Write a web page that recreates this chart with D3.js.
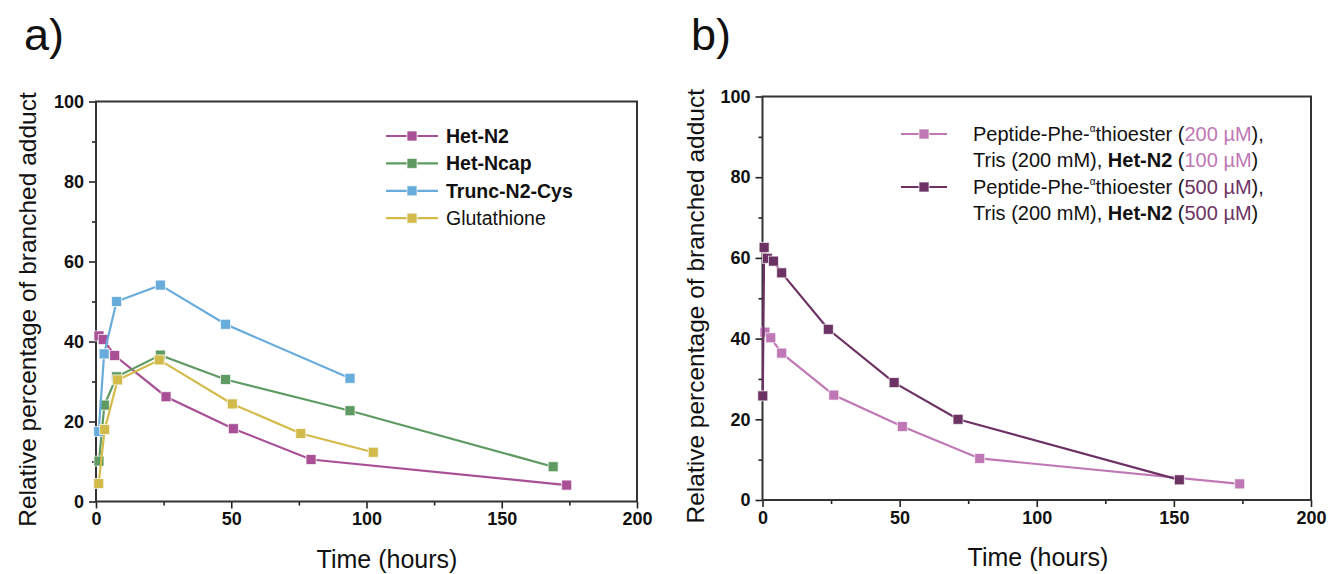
<!DOCTYPE html>
<html><head><meta charset="utf-8">
<script src="https://cdn.jsdelivr.net/npm/d3@7"></script>
<style>body{margin:0;background:#fff}svg{display:block;font-family:"Liberation Sans",Arial,sans-serif}</style>
</head><body><svg id="c" width="1329" height="574"></svg>
<script>
// Panel a data
const hetN2_x = [1.1, 2.7, 6.9, 25.9, 50.8, 79.5, 174];
const hetN2_y = [41.4, 40.5, 36.5, 26.2, 18.2, 10.5, 4.1];
const hetNcap_x = [1.1, 3.1, 7.6, 23.8, 47.9, 93.9, 169];
const hetNcap_y = [10.1, 24.1, 31.2, 36.6, 30.5, 22.7, 8.7];
const trunc_x = [1.0, 3.0, 7.6, 23.8, 47.9, 93.9];
const trunc_y = [17.5, 36.9, 50.0, 54.1, 44.3, 30.8];
const glut_x = [1.0, 3.2, 8.0, 23.4, 50.4, 75.7, 102.5];
const glut_y = [4.5, 18.0, 30.4, 35.4, 24.4, 17.0, 12.3];
// Panel b data
const b100_x = [0.9, 3.0, 7.0, 26.0, 51.0, 79.2, 174];
const b100_y = [41.6, 40.2, 36.4, 26.0, 18.2, 10.3, 4.0];
const b500_x = [0.1, 0.6, 1.8, 4.0, 7.0, 24.0, 48.0, 71.3, 152];
const b500_y = [25.8, 62.6, 59.9, 59.2, 56.3, 42.3, 29.1, 20.0, 5.0];
const xTicks = [0, 50, 100, 150, 200];
const yTicks = [0, 20, 40, 60, 80, 100];
const legendA = ["Het-N2", "Het-Ncap", "Trunc-N2-Cys", "Glutathione"];
const legendABold = [true, true, true, false];

const C = {n2:"#a84f96", ncap:"#5f9a62", trunc:"#68acdb", glut:"#d2bb4a", light:"#bf78b5", dark:"#6d3264"};
const svg = d3.select("#c");

function panel(o){
  const x = d3.scaleLinear().domain([0,200]).range([o.x0,o.x1]);
  const y = d3.scaleLinear().domain([0,100]).range([o.y0,o.y1]);
  const g = svg.append("g");
  // minor ticks
  g.append("g").attr("transform",`translate(0,${o.y0})`)
    .call(d3.axisBottom(x).tickValues([25,75,125,175]).tickSize(4).tickFormat(""))
    .call(a=>a.select(".domain").remove());
  g.append("g").attr("transform",`translate(${o.x0},0)`)
    .call(d3.axisLeft(y).tickValues([10,30,50,70,90]).tickSize(4).tickFormat(""))
    .call(a=>a.select(".domain").remove());
  g.append("g").attr("transform",`translate(0,${o.y0})`)
    .call(d3.axisBottom(x).tickValues(xTicks).tickSize(7).tickPadding(4).tickFormat(d3.format("d")));
  g.append("g").attr("transform",`translate(${o.x0},0)`)
    .call(d3.axisLeft(y).tickValues(yTicks).tickSize(7).tickPadding(5).tickFormat(d3.format("d")));
  g.selectAll(".tick line").attr("stroke","#222").attr("stroke-width",1.6);
  g.selectAll(".domain").remove();
  g.selectAll(".tick text").attr("font-size",18).attr("font-weight","bold").attr("fill","#111")
    .attr("font-family","Liberation Sans, Arial, sans-serif");
  // frame
  g.append("rect").attr("x",o.x0).attr("y",o.y1).attr("width",o.x1-o.x0).attr("height",o.y0-o.y1)
    .attr("fill","none").attr("stroke","#333").attr("stroke-width",2);
  // titles
  g.append("text").attr("x",o.xt).attr("y",o.y0+66).attr("text-anchor","middle")
    .attr("font-size",25).attr("fill","#111").text("Time (hours)");
  g.append("text").attr("transform",`translate(${o.yt},${(o.y0+o.y1)/2+8}) rotate(-90)`)
    .attr("text-anchor","middle").attr("font-size",24.5).attr("fill","#111").text("Relative percentage of branched adduct");
  g.append("text").attr("x",o.lx).attr("y",50).attr("font-size",45).attr("fill","#111").text(o.label);
  return {x,y,g};
}

function series(p, xs, ys, color){
  const pts = xs.map((v,i)=>[v,ys[i]]);
  const line = d3.line().x(d=>p.x(d[0])).y(d=>p.y(d[1]));
  p.g.append("path").attr("d",line(pts)).attr("fill","none").attr("stroke",color).attr("stroke-width",2.2);
  p.g.selectAll(null).data(pts).enter().append("rect")
    .attr("x",d=>p.x(d[0])-5).attr("y",d=>p.y(d[1])-5).attr("width",10).attr("height",10)
    .attr("fill",color).attr("stroke","#fff").attr("stroke-opacity",0.7).attr("stroke-width",1);
}

function legendMark(g, x1, x2, y, color){
  g.append("line").attr("x1",x1).attr("x2",x2).attr("y1",y).attr("y2",y).attr("stroke",color).attr("stroke-width",2.2);
  g.append("rect").attr("x",(x1+x2)/2-5).attr("y",y-5).attr("width",10).attr("height",10).attr("fill",color)
    .attr("stroke","#fff").attr("stroke-opacity",0.7);
}

const pa = panel({x0:96,x1:637,y0:501.5,y1:101.5,yt:36,xt:387,lx:24,label:"a)"});
series(pa, hetN2_x, hetN2_y, C.n2);
series(pa, hetNcap_x, hetNcap_y, C.ncap);
series(pa, trunc_x, trunc_y, C.trunc);
series(pa, glut_x, glut_y, C.glut);
const colA = [C.n2, C.ncap, C.trunc, C.glut];
legendA.forEach((t,i)=>{
  const yy = 136 + i*27.4;
  legendMark(pa.g, 386, 438, yy, colA[i]);
  pa.g.append("text").attr("x",446).attr("y",yy+7).attr("font-size",19.5)
    .attr("font-weight",legendABold[i]?"bold":"normal").attr("fill","#111").text(t);
});

const pb = panel({x0:762.5,x1:1311,y0:500,y1:96.5,yt:704,xt:1038,lx:691,label:"b)"});
series(pb, b100_x, b100_y, C.light);
series(pb, b500_x, b500_y, C.dark);

function legendB(y1, conc1, conc2, col){
  const t1 = pb.g.append("text").attr("x",973).attr("y",y1+7).attr("font-size",20).attr("fill","#111");
  t1.append("tspan").text("Peptide-Phe-");
  t1.append("tspan").attr("font-size",10).attr("dy",-9).text("α");
  t1.append("tspan").attr("dy",9).text("thioester (");
  t1.append("tspan").attr("fill",col).text(conc1);
  t1.append("tspan").text("),");
  const t2 = pb.g.append("text").attr("x",973).attr("y",y1+33).attr("font-size",20).attr("fill","#111");
  t2.append("tspan").text("Tris (200 mM), ");
  t2.append("tspan").attr("font-weight","bold").text("Het-N2");
  t2.append("tspan").text(" (");
  t2.append("tspan").attr("fill",col).text(conc2);
  t2.append("tspan").text(")");
}
legendMark(pb.g, 901, 947, 134, C.light);
legendB(134, "200 µM", "100 µM", C.light);
legendMark(pb.g, 901, 947, 187, C.dark);
legendB(187, "500 µM", "500 µM", C.dark);
</script></body></html>
